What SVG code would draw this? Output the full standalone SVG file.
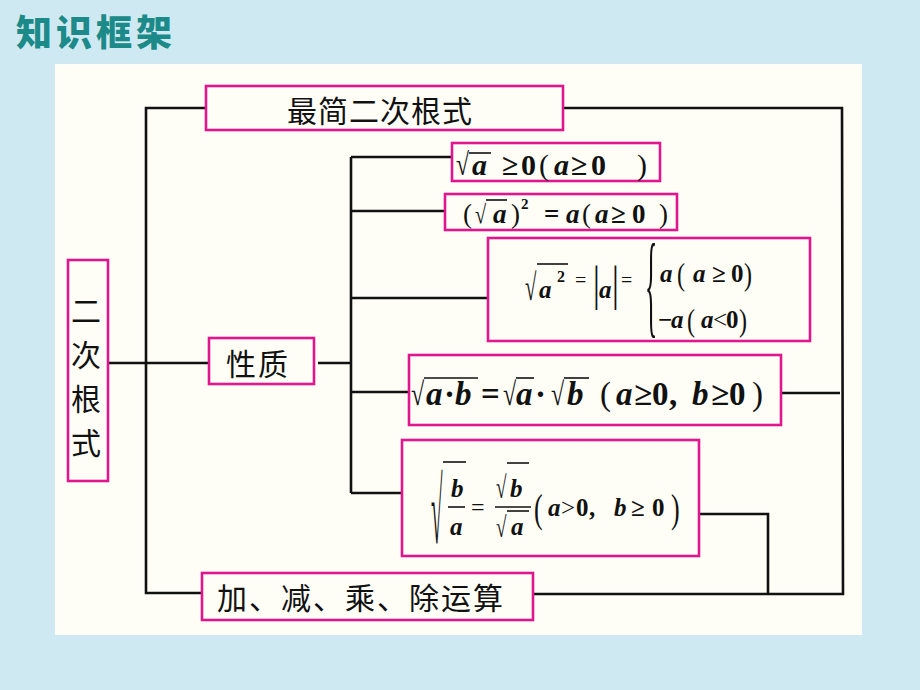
<svg xmlns="http://www.w3.org/2000/svg" width="920" height="690" viewBox="0 0 920 690">
<style>
.box{fill:none;stroke:#e0168f;stroke-width:2.6}
.ln{fill:none;stroke:#111;stroke-width:2.6}
.cj{font-family:"Noto Sans CJK SC","Noto Sans",sans-serif;font-size:30px;fill:#111}
.m{font-family:"Liberation Serif","Times New Roman",serif;font-weight:bold;fill:#111}
.i{font-style:italic}
.n{font-weight:normal}
.vb{stroke:#111;stroke-width:1.6}
</style>
<rect x="0" y="0" width="920" height="690" fill="#cfe9f3"/>
<text x="16" y="46" font-family="Noto Sans CJK SC,sans-serif" font-weight="900" font-size="36" letter-spacing="4" fill="#1b8a88">知识框架</text>
<rect x="55" y="64" width="807" height="571" fill="#fefef7"/>

<g id="connectors">
<polyline class="ln" points="206,108 146,108 146,593 202,593"/>
<line class="ln" x1="108" y1="363" x2="209" y2="363"/>
<line class="ln" x1="318" y1="363" x2="351" y2="363"/>
<line class="ln" x1="351" y1="157" x2="351" y2="493"/>
<line class="ln" x1="351" y1="157" x2="452" y2="157"/>
<line class="ln" x1="351" y1="211" x2="445" y2="211"/>
<line class="ln" x1="351" y1="298" x2="488" y2="298"/>
<line class="ln" x1="351" y1="392" x2="409" y2="392"/>
<line class="ln" x1="351" y1="493" x2="402" y2="493"/>
<polyline class="ln" points="563,108 842,108 843,594 533,594"/>
<line class="ln" x1="782" y1="393" x2="840" y2="393"/>
<polyline class="ln" points="699,514 768,514 768,593"/>
</g>

<g id="n-main">
<rect class="box" x="68" y="260" width="40" height="221"/>
<text class="cj" x="86" y="322" text-anchor="middle">二</text>
<text class="cj" x="86" y="366" text-anchor="middle">次</text>
<text class="cj" x="86" y="410" text-anchor="middle">根</text>
<text class="cj" x="86" y="454" text-anchor="middle">式</text>
</g>

<g id="n-simplest">
<rect class="box" x="206" y="86" width="357" height="44"/>
<text class="cj" x="287" y="122" font-size="31" letter-spacing="1">最简二次根式</text>
</g>

<g id="n-property">
<rect class="box" x="209" y="338" width="105" height="46"/>
<text class="cj" x="226" y="375" letter-spacing="2">性质</text>
</g>

<g id="n-ops">
<rect class="box" x="202" y="573" width="331" height="47"/>
<text class="cj" x="217" y="609" letter-spacing="2">加、减、乘、除运算</text>
</g>

<g id="n-f1">
<rect class="box" x="452" y="143" width="208" height="38"/>
<text class="m n" font-size="28" transform="translate(456,175) scale(0.85,1.12)">√</text>
<line class="vb" x1="469" y1="153" x2="491" y2="153"/>
<text class="m" font-size="30" y="175"><tspan class="i" x="472">a</tspan><tspan x="502">≥</tspan><tspan x="521">0</tspan><tspan class="n" x="539">(</tspan><tspan class="i" x="554">a</tspan><tspan x="571">≥</tspan><tspan x="591">0</tspan><tspan class="n" x="637">)</tspan></text>
</g>

<g id="n-f2">
<rect class="box" x="445" y="194" width="232" height="36"/>
<text class="m n" font-size="24" transform="translate(475,223) scale(0.85,1.08)">√</text>
<line class="vb" x1="486" y1="200" x2="507" y2="200"/>
<text class="m" font-size="27" y="223"><tspan class="n" x="463">(</tspan><tspan class="i" x="493">a</tspan><tspan class="n" x="511">)</tspan><tspan x="544">=</tspan><tspan class="i" x="566">a</tspan><tspan class="n" x="582">(</tspan><tspan class="i" x="595">a</tspan><tspan x="611">≥</tspan><tspan x="632">0</tspan><tspan class="n" x="659">)</tspan></text>
<text class="m" font-size="15" x="521" y="209">2</text>
</g>

<g id="n-f3">
<rect class="box" x="488" y="238" width="322" height="103"/>
<text class="m n" font-size="26" transform="translate(525,300) scale(0.8,1.45)">√</text>
<line class="vb" x1="537" y1="264" x2="568" y2="264"/>
<text class="m i" font-size="25" x="539" y="298">a</text>
<text class="m" font-size="16" x="557" y="282">2</text>
<text class="m n" font-size="20" x="575" y="287">=</text>
<text class="m n" font-size="34" transform="translate(593,300) scale(1,1.45)">|</text>
<text class="m i" font-size="25" x="599" y="298">a</text>
<text class="m n" font-size="34" transform="translate(612,300) scale(1,1.45)">|</text>
<text class="m n" font-size="20" x="621" y="287">=</text>
<text class="m n" font-size="32" transform="translate(645,323) scale(0.8,3.55)">{</text>
<text class="m" font-size="25" y="282"><tspan class="i" x="660">a</tspan></text>
<text class="m n" font-size="24" transform="translate(677,285) scale(1,1.35)">(</text>
<text class="m" font-size="25" y="282"><tspan class="i" x="693">a</tspan><tspan x="712">≥</tspan><tspan x="731">0</tspan></text>
<text class="m n" font-size="24" transform="translate(744,285) scale(1,1.35)">)</text>
<text class="m" font-size="25" y="328"><tspan x="658">−</tspan><tspan class="i" x="671">a</tspan></text>
<text class="m n" font-size="24" transform="translate(687,331) scale(1,1.35)">(</text>
<text class="m" font-size="25" y="328"><tspan class="i" x="701">a</tspan><tspan class="n" x="713">&lt;</tspan><tspan x="726">0</tspan></text>
<text class="m n" font-size="24" transform="translate(739,331) scale(1,1.35)">)</text>
</g>

<g id="n-f4">
<rect class="box" x="409" y="355" width="372" height="70"/>
<text class="m n" font-size="30" transform="translate(411,405) scale(0.8,1.08)">√</text>
<line class="vb" x1="424" y1="378" x2="478" y2="378"/>
<text class="m n" font-size="30" transform="translate(503,405) scale(0.8,1.08)">√</text>
<line class="vb" x1="516" y1="378" x2="534" y2="378"/>
<text class="m n" font-size="30" transform="translate(551,405) scale(0.8,1.08)">√</text>
<line class="vb" x1="564" y1="378" x2="589" y2="378"/>
<text class="m" font-size="33" y="405"><tspan class="i" x="426">a</tspan><tspan x="444">·</tspan><tspan class="i" x="455">b</tspan><tspan x="481">=</tspan><tspan class="i" x="516">a</tspan><tspan x="535">·</tspan><tspan class="i" x="567">b</tspan><tspan class="n" x="600">(</tspan><tspan class="i" x="616">a</tspan><tspan x="634">≥</tspan><tspan x="652">0</tspan><tspan x="669">,</tspan><tspan class="i" x="692">b</tspan><tspan x="711">≥</tspan><tspan x="729">0</tspan><tspan class="n" x="752">)</tspan></text>
</g>

<g id="n-f5">
<rect class="box" x="402" y="440" width="297" height="116"/>
<text class="m n" font-size="28" transform="translate(431,543) scale(0.75,3.3)">√</text>
<line class="vb" x1="443" y1="462" x2="466" y2="462"/>
<text class="m i" font-size="25" x="451" y="497">b</text>
<line class="vb" x1="448" y1="507" x2="465" y2="507"/>
<text class="m i" font-size="25" x="450" y="535">a</text>
<text class="m n" font-size="24" x="471" y="515">=</text>
<text class="m n" font-size="24" transform="translate(496,498) scale(0.8,1.3)">√</text>
<line class="vb" x1="507" y1="463" x2="529" y2="463"/>
<text class="m i" font-size="25" x="510" y="497">b</text>
<line class="vb" x1="495" y1="507" x2="531" y2="507"/>
<text class="m n" font-size="24" transform="translate(496,537) scale(0.8,1.2)">√</text>
<line class="vb" x1="507" y1="511" x2="529" y2="511"/>
<text class="m i" font-size="25" x="511" y="535">a</text>
<text class="m n" font-size="26" transform="translate(534,522) scale(1,1.55)">(</text>
<text class="m" font-size="25" y="516"><tspan class="i" x="548">a</tspan><tspan class="n" x="561">&gt;</tspan><tspan x="576">0</tspan><tspan x="589">,</tspan><tspan class="i" x="614">b</tspan><tspan x="631">≥</tspan><tspan x="652">0</tspan></text>
<text class="m n" font-size="26" transform="translate(671,522) scale(1,1.55)">)</text>
</g>
</svg>
